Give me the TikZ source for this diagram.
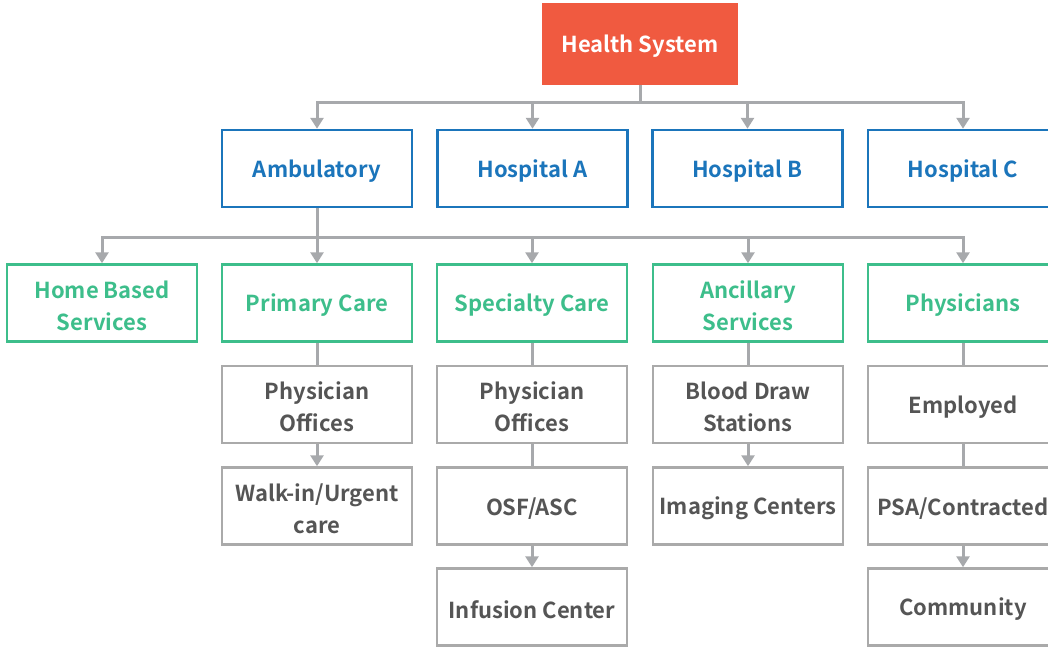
\documentclass[tikz,border=0pt]{standalone}
\usepackage{fontspec}
\setmainfont{Noto Sans CJK SC}[BoldFont={Noto Sans CJK SC Bold}]
\usetikzlibrary{arrows.meta}
\definecolor{topred}{HTML}{F05A40}
\definecolor{unitblue}{HTML}{1B75BB}
\definecolor{svcgreen}{HTML}{3DBE8B}
\definecolor{itemgray}{HTML}{AAAAAA}
\definecolor{itemtext}{HTML}{555555}
\definecolor{linkgray}{HTML}{A7A9AC}
\tikzset{
  % box frame; its caption is set a little below the geometric centre
  box/.style 2 args={rectangle, minimum width=190pt, minimum height=77pt, line width=2.5pt,
    inner sep=0pt,
    label={[align=center, inner sep=0pt, yshift=-2.5pt, text=#1,
      font=\bfseries\fontsize{22}{32}\selectfont]center:#2}},
  topbox/.style={box={white}{#1}, fill=topred, draw=topred, minimum width=193pt, minimum height=79pt},
  unitbox/.style={box={unitblue}{#1}, draw=unitblue, fill=white},
  svcbox/.style={box={svcgreen}{#1}, draw=svcgreen, fill=white},
  itembox/.style={box={itemtext}{#1}, draw=itemgray, fill=white},
  link/.style={draw=linkgray, line width=3pt},
  arrowlink/.style={link, -{Triangle[width=13pt,length=11pt]}}
}
\begin{document}
\begin{tikzpicture}[x=1pt,y=-1pt]
\useasboundingbox (0,0) rectangle (1048,646);
\clip (0,0) rectangle (1048,646);

\coordinate (bus1) at (640,102);
\coordinate (bus2) at (317,237);

% top level
\node[topbox={Health System}] (hs) at (640,44) {};
\node[unitbox={Ambulatory}] (amb) at (317,168.5) {};
\node[unitbox={Hospital A}] (ha) at (532.5,168.5) {};
\node[unitbox={Hospital B}] (hb) at (747.5,168.5) {};
\node[unitbox={Hospital C}] (hc) at (963,168.5) {};

% service lines
\node[svcbox={Home Based\\Services}] (home) at (102,303) {};
\node[svcbox={Primary Care}] (prim) at (317,303) {};
\node[svcbox={Specialty Care}] (spec) at (532,303) {};
\node[svcbox={Ancillary\\Services}] (anc) at (748,303) {};
\node[svcbox={Physicians}] (phys) at (963,303) {};

% sites and arrangements
\node[itembox={Physician\\Offices}] (po1) at (317,404.5) {};
\node[itembox={Walk-in/Urgent\\care}] (walk) at (317,506) {};
\node[itembox={Physician\\Offices}] (po2) at (532,404.5) {};
\node[itembox={OSF/ASC}] (osf) at (532,506) {};
\node[itembox={Infusion Center}] (inf) at (532,607) {};
\node[itembox={Blood Draw\\Stations}] (bds) at (748,404.5) {};
\node[itembox={Imaging Centers}] (img) at (748,506) {};
\node[itembox={Employed}] (emp) at (963,404.5) {};
\node[itembox={PSA/Contracted}] (psa) at (963,506) {};
\node[itembox={Community}] (comm) at (963,607) {};

% health system to its units
\draw[link] (hs.south) -- (bus1);
\foreach \n in {amb,ha,hb,hc}
  \draw[arrowlink] (bus1) -| (\n.north);

% ambulatory to its service lines
\draw[link] (amb.south) -- (bus2);
\foreach \n in {home,prim,spec,anc,phys}
  \draw[arrowlink] (bus2) -| (\n.north);

% chains below each service line
\draw[link] (prim.south) -- (po1.north);
\draw[arrowlink] (po1.south) -- (walk.north);
\draw[link] (spec.south) -- (po2.north);
\draw[link] (po2.south) -- (osf.north);
\draw[arrowlink] (osf.south) -- (inf.north);
\draw[link] (anc.south) -- (bds.north);
\draw[arrowlink] (bds.south) -- (img.north);
\draw[link] (phys.south) -- (emp.north);
\draw[link] (emp.south) -- (psa.north);
\draw[arrowlink] (psa.south) -- (comm.north);
\end{tikzpicture}
\end{document}
